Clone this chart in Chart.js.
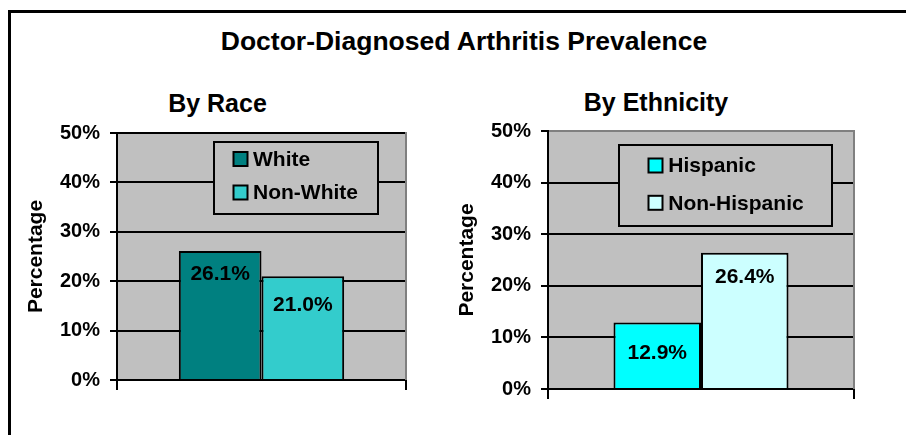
<!DOCTYPE html>
<html><head><meta charset="utf-8">
<script src="https://cdn.jsdelivr.net/npm/chart.js@4.4.0/dist/chart.umd.min.js"></script>
<style>
html,body{margin:0;padding:0;background:#fff;overflow:hidden;width:906px;height:435px;}
#frame{position:absolute;left:8px;top:10px;width:1000px;height:600px;border-left:3px solid #000;border-top:3px solid #000;}
.t{position:absolute;font-family:'Liberation Sans',Arial,sans-serif;font-weight:bold;color:#000;text-align:center;white-space:nowrap;line-height:30px;}
canvas{position:absolute;top:0;}
</style></head><body>
<div id="frame"></div>
<div class="t" style="left:64px;width:800px;top:26px;font-size:26.5px">Doctor-Diagnosed Arthritis Prevalence</div>
<div class="t" style="left:0;width:435px;top:88px;font-size:25px">By Race</div>
<div class="t" style="left:456px;width:400px;top:87px;font-size:25px">By Ethnicity</div>
<canvas id="c1" width="453" height="435" style="left:0"></canvas>
<canvas id="c2" width="475" height="435" style="left:431px"></canvas>
<script>
const raceCategory = [''];
const raceSeries = ['White', 'Non-White'];
const raceValues = [26.1, 21.0];
const ethnicityCategory = [''];
const ethnicitySeries = ['Hispanic', 'Non-Hispanic'];
const ethnicityValues = [12.9, 26.4];
const yTickValues = [0, 10, 20, 30, 40, 50];

const FONT = "'Liberation Sans', Arial, sans-serif";
Chart.defaults.font.family = FONT;
Chart.defaults.font.weight = 'bold';
Chart.defaults.color = '#000';

const plotBg = {
  id: 'plotBg',
  beforeDraw(chart, args, o) {
    const {ctx, chartArea: a} = chart;
    ctx.save();
    ctx.fillStyle = o.color;
    ctx.fillRect(a.left, a.top, a.right - a.left, a.bottom - a.top);
    ctx.restore();
  },
  beforeDatasetsDraw(chart, args, o) {
    const {ctx, chartArea: a} = chart;
    ctx.save();
    ctx.strokeStyle = o.rightColor; ctx.lineWidth = 2;
    ctx.beginPath(); ctx.moveTo(a.right, a.top - 1); ctx.lineTo(a.right, a.bottom); ctx.stroke();
    ctx.restore();
  }
};

const barLabels = {
  id: 'barLabels',
  afterDatasetsDraw(chart, args, o) {
    const {ctx} = chart;
    ctx.save();
    ctx.font = 'bold ' + o.size + 'px ' + FONT;
    ctx.fillStyle = '#000'; ctx.textAlign = 'center'; ctx.textBaseline = 'middle';
    chart.data.datasets.forEach((ds, i) => {
      chart.getDatasetMeta(i).data.forEach((bar, j) => {
        ctx.fillText(ds.data[j].toFixed(1) + '%', bar.x, bar.y + o.offsets[i]);
      });
    });
    ctx.restore();
  }
};

const boxLegend = {
  id: 'boxLegend',
  afterDatasetsDraw(chart, args, o) {
    const {ctx} = chart;
    ctx.save();
    ctx.fillStyle = o.fill; ctx.fillRect(o.x, o.y, o.w, o.h);
    ctx.strokeStyle = '#000'; ctx.lineWidth = 2; ctx.strokeRect(o.x, o.y, o.w, o.h);
    ctx.font = 'bold ' + o.size + 'px ' + FONT;
    ctx.textBaseline = 'middle'; ctx.textAlign = 'left';
    chart.data.datasets.forEach((ds, i) => {
      const cy = o.firstY + i * o.gap;
      ctx.fillStyle = ds.backgroundColor;
      ctx.fillRect(o.sx, cy - o.sq / 2, o.sq, o.sq);
      ctx.lineWidth = 2; ctx.strokeStyle = '#000';
      ctx.strokeRect(o.sx, cy - o.sq / 2, o.sq, o.sq);
      ctx.fillStyle = '#000';
      ctx.fillText(ds.label, o.tx, cy + 1);
    });
    ctx.restore();
  }
};

function makeChart(id, cats, series, values, colors, o) {
  return new Chart(document.getElementById(id), {
    type: 'bar',
    data: {
      labels: cats,
      datasets: series.map((s, i) => ({
        label: s, data: [values[i]], backgroundColor: colors[i],
        borderColor: '#000', borderWidth: 2,
        categoryPercentage: 0.572, barPercentage: 1
      }))
    },
    options: {
      responsive: false, animation: false, devicePixelRatio: 1,
      layout: { padding: { left: 0, top: o.top, right: o.right, bottom: o.bottom } },
      plugins: {
        legend: { display: false }, title: { display: false }, tooltip: { enabled: false },
        plotBg: { color: '#C0C0C0', rightColor: '#808080' },
        barLabels: { size: 21, offsets: o.labelOffsets },
        boxLegend: o.legend
      },
      scales: {
        x: {
          type: 'category', offset: true,
          grid: { display: true, drawOnChartArea: false, drawTicks: true, tickLength: 10, color: '#000', lineWidth: 2, offset: true },
          border: { display: true, color: '#000', width: 2 },
          ticks: { display: false },
          afterFit: s => { s.height = 12; }
        },
        y: {
          min: 0, max: 50,
          afterBuildTicks: s => { s.ticks = yTickValues.map(v => ({ value: v })); },
          ticks: { callback: v => v + '%', font: { size: 20, weight: 'bold' }, padding: 10, color: '#000' },
          grid: { color: c => (c.tick && c.tick.value === 50) ? o.topColor : '#000', tickColor: '#000', lineWidth: 2, tickLength: 7 },
          border: { display: true, color: '#000', width: 2 },
          title: { display: true, text: 'Percentage', font: { size: 21, weight: 'bold' }, padding: { top: 24, bottom: 0 }, color: '#000' },
          afterFit: s => { s.width = 117; }
        }
      }
    },
    plugins: [plotBg, barLabels, boxLegend]
  });
}

makeChart('c1', raceCategory, raceSeries, raceValues, ['#008080', '#33CCCC'], {
  top: 133, right: 47, bottom: 43, topColor: '#000',
  labelOffsets: [23, 29],
  legend: { x: 214, y: 142, w: 164, h: 72, fill: '#C0C0C0', size: 21, sx: 233.5, sq: 14, tx: 253, firstY: 159, gap: 33.5 }
});

makeChart('c2', ethnicityCategory, ethnicitySeries, ethnicityValues, ['#00FFFF', '#CCFFFF'], {
  top: 131, right: 52, bottom: 34, topColor: '#808080',
  labelOffsets: [31, 24.6],
  legend: { x: 188, y: 145, w: 213, h: 81, fill: '#C0C0C0', size: 21, sx: 217.5, sq: 14, tx: 237.3, firstY: 165.5, gap: 37.3 }
});
</script>
</body></html>
